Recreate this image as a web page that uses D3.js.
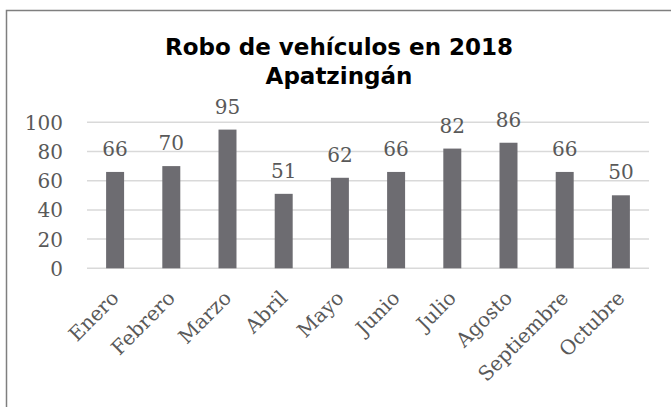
<!DOCTYPE html>
<html><head><meta charset="utf-8">
<script src="https://cdn.jsdelivr.net/npm/d3@7"></script>
<style>body{margin:0;background:#fff;}svg{display:block;}</style>
</head><body>
<svg id="chart" width="671" height="407"></svg>
<script>
const months = ["Enero","Febrero","Marzo","Abril","Mayo","Junio","Julio","Agosto","Septiembre","Octubre"];
const values = [66,70,95,51,62,66,82,86,66,50];
const yTicks = [0,20,40,60,80,100];
const titleLines = ["Robo de vehículos en 2018","Apatzingán"];

(function(){
const svg = d3.select("#chart");
const plotLeft = 87, plotRight = 649, plotTop = 122.3, plotBottom = 268.3;
const serif = "'DejaVu Serif', serif";
const textColor = "#595959";

svg.append("rect").attr("x",6.5).attr("y",10.5).attr("width",800).attr("height",600)
  .attr("fill","#fff").attr("stroke","#7f7f7f").attr("stroke-width",1.5);

const x = d3.scaleBand().domain(months).range([plotLeft,plotRight]).paddingInner(0.68).paddingOuter(0.34);
const y = d3.scaleLinear().domain([0,100]).range([plotBottom,plotTop]);

svg.append("g").selectAll("line").data(yTicks).join("line")
  .attr("x1",plotLeft).attr("x2",plotRight)
  .attr("y1",d=>y(d)).attr("y2",d=>y(d))
  .attr("stroke","#d9d9d9").attr("stroke-width",1.5);

const yAxis = d3.axisLeft(y).tickValues(yTicks).tickSize(0).tickPadding(0);
const ya = svg.append("g").attr("transform",`translate(63,0)`).call(yAxis);
ya.select(".domain").remove();
ya.selectAll("text").attr("font-family",serif).attr("font-size",20).attr("fill",textColor).attr("dy","0.35em");

svg.append("g").selectAll("rect").data(values).join("rect")
  .attr("x",(d,i)=>x(months[i])).attr("width",x.bandwidth())
  .attr("y",d=>y(d)).attr("height",d=>plotBottom-y(d))
  .attr("fill","#6d6c71");

svg.append("g").selectAll("text").data(values).join("text")
  .attr("x",(d,i)=>x(months[i])+x.bandwidth()/2)
  .attr("y",d=>y(d)-16)
  .attr("text-anchor","middle")
  .attr("font-family",serif).attr("font-size",20).attr("fill",textColor)
  .text(d=>d);

const xAxis = d3.axisBottom(x).tickSize(0).tickPadding(0);
const xa = svg.append("g").attr("transform",`translate(0,${plotBottom})`).call(xAxis);
xa.select(".domain").remove();
xa.selectAll("text")
  .attr("font-family",serif).attr("font-size",20).attr("fill",textColor)
  .attr("text-anchor","end").attr("dy",null).attr("y",null)
  .attr("transform","translate(5,31) rotate(-45)");

svg.append("text").attr("x",339).attr("y",55)
  .attr("text-anchor","middle").attr("font-family","'DejaVu Sans', sans-serif")
  .attr("font-weight","bold").attr("font-size",23).attr("fill","#000")
  .selectAll("tspan").data(titleLines).join("tspan")
  .attr("x",339).attr("dy",(d,i)=>i===0?0:28.5).text(d=>d);
})();
</script>
</body></html>
